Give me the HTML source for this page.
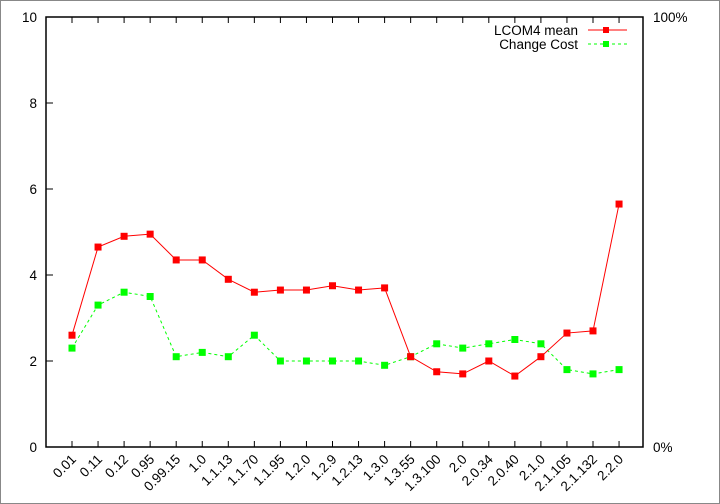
<!DOCTYPE html>
<html><head><meta charset="utf-8"><style>
body{margin:0;background:#fff}
svg{display:block;font-family:"Liberation Sans",sans-serif;font-size:13.5px}
</style></head><body>
<svg id="chart" width="720" height="504" viewBox="0 0 720 504">
<rect x="0.5" y="0.5" width="719" height="503" fill="#fff" stroke="#888"/>
<g id="axes"></g>
<g id="series"></g>
<g id="legend">
<text x="578" y="35" text-anchor="end">LCOM4 mean</text>
<line x1="588" y1="30" x2="627" y2="30" stroke="#f00"/>
<rect x="603" y="27" width="6" height="6" fill="#f00"/>
<text x="578" y="49" text-anchor="end">Change Cost</text>
<line x1="588" y1="44" x2="627" y2="44" stroke="#0f0" stroke-dasharray="3,3"/>
<rect x="603" y="41" width="6" height="6" fill="#0f0"/>
</g>
</svg>
<script>
const categories=["0.01","0.11","0.12","0.95","0.99.15","1.0","1.1.13","1.1.70","1.1.95","1.2.0","1.2.9","1.2.13","1.3.0","1.3.55","1.3.100","2.0","2.0.34","2.0.40","2.1.0","2.1.105","2.1.132","2.2.0"];
const lcom4=[2.6,4.65,4.9,4.95,4.35,4.35,3.9,3.6,3.65,3.65,3.75,3.65,3.7,2.1,1.75,1.7,2.0,1.65,2.1,2.65,2.7,5.65];
const changeCost=[2.3,3.3,3.6,3.5,2.1,2.2,2.1,2.6,2.0,2.0,2.0,2.0,1.9,2.1,2.4,2.3,2.4,2.5,2.4,1.8,1.7,1.8];
const yTicks=[0,2,4,6,8,10];
const NS="http://www.w3.org/2000/svg";
const L=46,R=643,T=17,B=447;
const x=i=>72+i*26.05;
const y=v=>B-(v/10)*(B-T);
function mk(tag,attrs,parent,text){const e=document.createElementNS(NS,tag);for(const k in attrs)e.setAttribute(k,attrs[k]);if(text!==undefined)e.textContent=text;parent.appendChild(e);return e;}
const ax=document.getElementById('axes');
let f=mk('rect',{x:L,y:T,width:R-L,height:B-T,fill:'none',stroke:'#000','stroke-width':1.5},ax);


yTicks.forEach(v=>{
 let t=mk('line',{x1:L,y1:y(v),x2:L+7,y2:y(v),stroke:'#000'},ax);
 
 
 let lb=mk('text',{x:L-9,y:y(v)+5,'text-anchor':'end'},ax,String(v));
 
 
});
let p0=mk('text',{x:653,y:B+5},ax,'0%');


let p1=mk('text',{x:653,y:T+5},ax,'100%');


categories.forEach((c,i)=>{
 let t=mk('path',{d:`M${x(i)},${B}v-6M${x(i)},${T}v6`,stroke:'#000'},ax);
 
 
 let lb=mk('text',{x:x(i)+5,y:B+13,'text-anchor':'end',transform:`rotate(-45 ${x(i)+5} ${B+13})`},ax,c);
 
 
});
const sg=document.getElementById('series');
function series(vals,color,dash,name){
 let pl=mk('polyline',{points:vals.map((v,i)=>x(i)+','+y(v)).join(' '),fill:'none',stroke:color,'stroke-dasharray':dash},sg);
 
 
 vals.forEach((v,i)=>{
  let r=mk('rect',{x:x(i)-3.5,y:y(v)-3.5,width:7,height:7,fill:color},sg);
  
  
 });
}
series(changeCost,'#0f0','3,3','change-cost');
series(lcom4,'#f00','none','lcom4-mean');
</script>
</body></html>
